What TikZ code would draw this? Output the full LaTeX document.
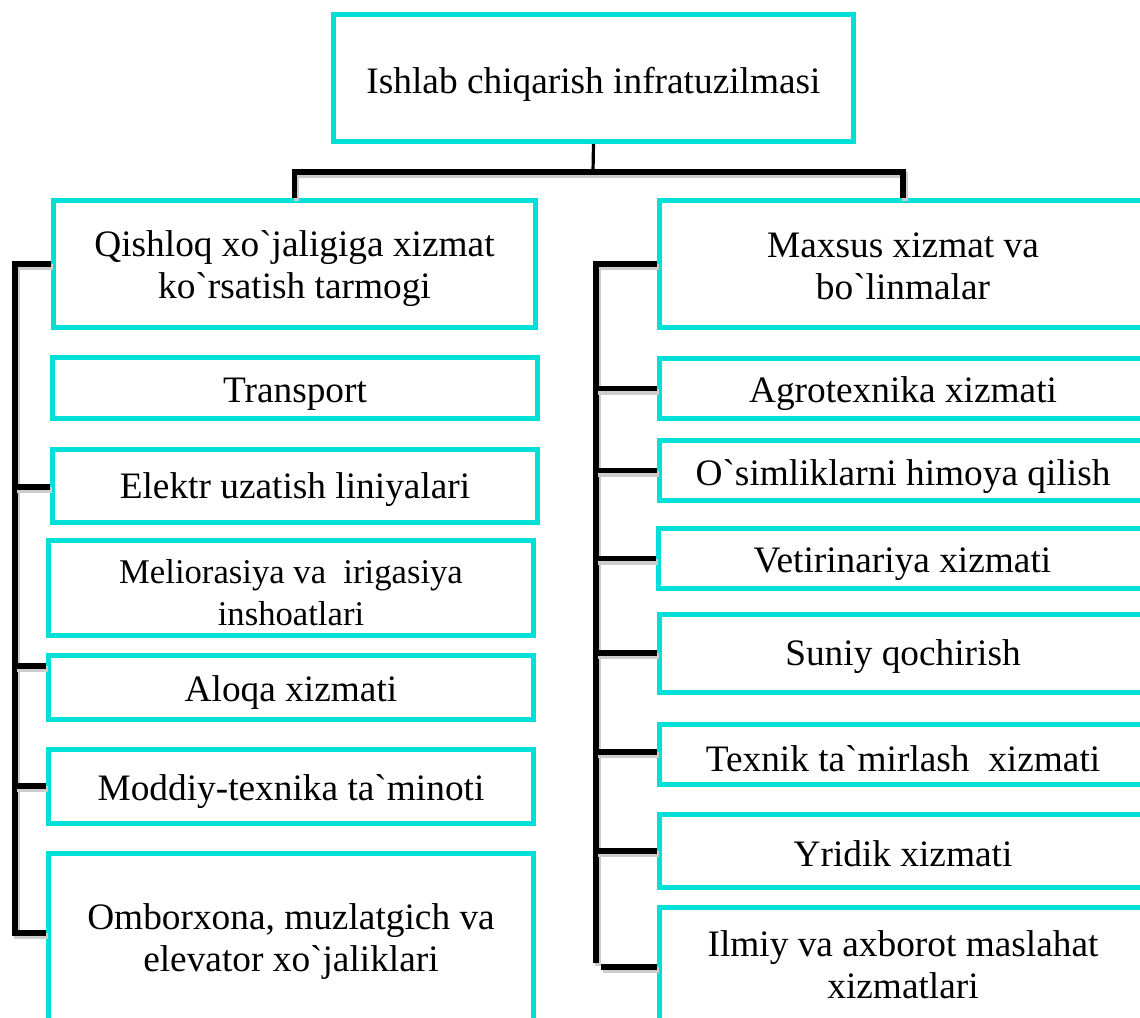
\documentclass[tikz,border=0pt]{standalone}
\usepackage{fontspec}
\setmainfont{Liberation Serif}[Ligatures=TeXOff]
\definecolor{boxcyan}{RGB}{0,224,216}
\tikzset{
  box/.style 2 args={draw=boxcyan, line width=3.75pt, fill=white, inner sep=0pt,
    minimum width=#1*0.75pt, minimum height=#2*0.75pt},
  lbl/.style={inner sep=0pt, align=center, font=\fontsize{28}{31.5}\selectfont},
  conn/.style={draw=black, line width=3.9pt,
    preaction={draw=black!20, line width=4.2pt, transform canvas={shift={(1.5pt,-2.4pt)}}}},
  thinconn/.style={draw=black, line width=2.4pt}
}
% \bx{name}{W}{H}{x}{y}{text shift in pt}{text}
\newcommand{\bx}[7]{%
  \node[box={#2}{#3}] (#1) at (#4,#5) {};
  \node[lbl] (#1-t) at ([yshift=-#6pt]#1.center) {#7};}
\begin{document}
\begin{tikzpicture}[x=0.75pt,y=-0.75pt]
\useasboundingbox (0,0) rectangle (1140,1018);
\clip (0,0) rectangle (1140,1018);
\coordinate (hub) at (593,172);
\coordinate (Ltop) at (15,264);
\coordinate (Lbot) at (15,936);
\coordinate (Rtop) at (596,264);
\coordinate (Rbot) at (596,963);

% boxes
\bx{top}{520}{127}{593.5}{78}{4.5}{Ishlab chiqarish infratuzilmasi}
\bx{qish}{482}{127}{294.5}{264}{3.5}{Qishloq xo`jaligiga xizmat\\ko`rsatish tarmogi}
\bx{maxs}{488}{127}{903}{264}{2}{Maxsus xizmat va\\bo`linmalar}

\bx{trans}{485}{61}{295}{388}{4.5}{Transport}
\bx{elek}{485}{73}{295}{486}{3}{Elektr uzatish liniyalari}
\bx{meli}{485}{95}{291}{588}{3.5}{\fontsize{26}{29.5}\selectfont Meliorasiya va \ irigasiya\\\fontsize{26}{29.5}\selectfont inshoatlari}
\bx{aloq}{485}{64}{291}{687.5}{4}{Aloqa xizmati}
\bx{modd}{485}{74}{291}{786.5}{4}{Moddiy-texnika ta`minoti}
\bx{ombo}{485}{169}{291}{938}{3}{Omborxona, muzlatgich va\\elevator xo`jaliklari}

\bx{agro}{488}{60}{903}{388.5}{4}{Agrotexnika xizmati}
\bx{osim}{488}{60}{903}{470.5}{4.5}{O`simliklarni himoya qilish}
\bx{veti}{488}{60}{902.5}{558.5}{4.5}{Vetirinariya xizmati}
\bx{suni}{488}{78}{903}{653.5}{2.5}{Suniy qochirish}
\bx{texn}{488}{60}{903}{754.5}{3}{Texnik ta`mirlash \ xizmati}
\bx{yrid}{488}{73}{903}{851}{2}{Yridik xizmati}
\bx{ilmi}{488}{115}{903}{965}{0}{Ilmiy va axborot maslahat\\xizmatlari}

% tree from top
\draw[thinconn] (top.south) -- (hub);
\draw[conn] (qish.north) -- (qish.north |- hub) -- (maxs.north |- hub) -- (maxs.north);

% left spine
\draw[conn] (Lbot) -- (Ltop) -- (qish.west);
\draw[conn] (Ltop |- 0,487) -- (elek.west |- 0,487);
\draw[conn] (Ltop |- 0,666) -- (aloq.west |- 0,666);
\draw[conn] (Ltop |- 0,786) -- (modd.west |- 0,786);
\draw[conn] (Lbot |- 0,933) -- (ombo.west |- 0,933);

% right spine
\draw[conn] (Rbot) -- (Rtop) -- (maxs.west);
\draw[conn] (Rtop |- agro.west) -- (agro.west);
\draw[conn] (Rtop |- osim.west) -- (osim.west);
\draw[conn] (Rtop |- veti.west) -- (veti.west);
\draw[conn] (Rtop |- 0,653) -- (suni.west |- 0,653);
\draw[conn] (Rtop |- 0,752) -- (texn.west |- 0,752);
\draw[conn] (Rtop |- 0,851) -- (yrid.west |- 0,851);
\coordinate (ilst) at (601,967);
\draw[conn] (ilst) -- (ilmi.west |- ilst);
\end{tikzpicture}
\end{document}
